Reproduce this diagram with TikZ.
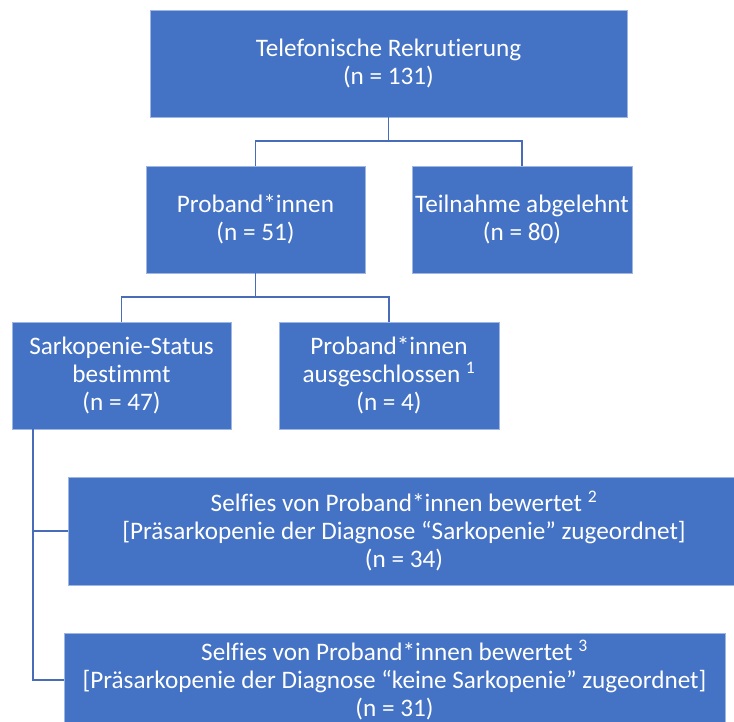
\documentclass[tikz,border=0pt]{standalone}
\usepackage{fontspec}
\setmainfont{Carlito}[Ligatures=NoCommon]
\definecolor{boxblue}{RGB}{68, 114, 196}
\definecolor{lineblue}{RGB}{72, 108, 184}
\definecolor{edgeblue}{RGB}{160, 182, 226}
\usetikzlibrary{positioning, calc}

\begin{document}
\begin{tikzpicture}[x=1pt, y=-1pt,
  flowbox/.style={fill=boxblue, draw=edgeblue, line width=0.6pt, text=white, align=center,
    font=\fontsize{25.2}{28.3}\selectfont, inner sep=0pt},
  link/.style={draw=lineblue, line width=1.8pt}]
\useasboundingbox (0,0) rectangle (734,722);

\node[flowbox, minimum width=477pt, minimum height=107pt] (rekrut) at (388.5,63.5) {Telefonische Rekrutierung\\(n = 131)};
\node[flowbox, minimum width=219pt, minimum height=107pt] (proband) at (255.5,219.5) {Proband*innen\\(n = 51)};
\node[flowbox, minimum width=220pt, minimum height=107pt] (abgelehnt) at (522,219.5) {Teilnahme abgelehnt\\(n = 80)};
\node[flowbox, minimum width=219pt, minimum height=107pt] (status) at (121.5,375.5) {Sarkopenie-Status\\bestimmt\\(n = 47)};
\node[flowbox, minimum width=220pt, minimum height=107pt] (ausgeschl) at (389,375.5) {Proband*innen\\ausgeschlossen \textsuperscript{1}\\(n = 4)};
\node[flowbox, minimum width=672pt, minimum height=108pt] (selfieA) at (404,531) {Selfies von Proband*innen bewertet \textsuperscript{2}\\{}[Präsarkopenie der Diagnose “Sarkopenie” zugeordnet]\\(n = 34)};
\node[flowbox, minimum width=661pt, minimum height=94pt] (selfieB) at (394.5,680) {Selfies von Proband*innen bewertet \textsuperscript{3}\\{}[Präsarkopenie der Diagnose “keine Sarkopenie” zugeordnet]\\(n = 31)};

% connectors
\draw[link] (rekrut.south) -- ++(0,24) -| (proband.north);
\draw[link] (rekrut.south) -- ++(0,24) -| (abgelehnt.north);
\draw[link] (proband.south) -- ++(0,24) -| (status.north);
\draw[link] (proband.south) -- ++(0,24) -| (ausgeschl.north);
\draw[link] ([xshift=-88.5pt]status.south) |- (selfieA.west);
\draw[link] ([xshift=-88.5pt]status.south) |- (selfieB.west);
\end{tikzpicture}
\end{document}
